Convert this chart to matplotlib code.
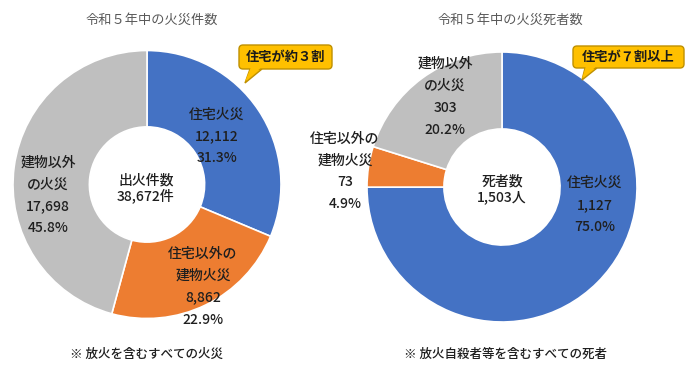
import matplotlib.pyplot as plt
from matplotlib.patches import FancyBboxPatch, Polygon

plt.rcParams['font.family'] = ['Noto Sans CJK JP', 'DejaVu Sans']

# data
categories = ['住宅火災', '住宅以外の\n建物火災', '建物以外\nの火災']
fire_counts = [12112, 8862, 17698]
death_counts = [1127, 73, 303]
colors = ['#4472C4', '#ED7D31', '#BFBFBF']

titles = ['令和５年中の火災件数', '令和５年中の火災死者数']
center_names = ['出火件数', '死者数']
center_units = ['件', '人']
footnotes = ['※ 放火を含むすべての火災', '※ 放火自殺者等を含むすべての死者']
callouts = ['住宅が約３割', '住宅が７割以上']

W, H = 696, 368
TEXT = '#1f1f1f'


def stack(ax, x, yc, lines, step=22, **kw):
    # draw lines centred on yc (image coords, y down)
    n = len(lines)
    for i, s in enumerate(lines):
        y = yc + (i - (n - 1) / 2) * step
        ax.text(x, H - y, s, ha='center', va='center', **kw)


def donut(ax, values, cx, cy, r, label_pos):
    ax.pie(values, colors=colors, startangle=90, counterclock=False,
           radius=r, center=(cx, H - cy),
           wedgeprops=dict(width=r * 0.57, edgecolor='white', linewidth=1.2))
    total = sum(values)
    for name, v, (lx, ly) in zip(categories, values, label_pos):
        lines = name.split('\n') + [f'{v:,}', f'{v / total * 100:.1f}%']
        stack(ax, lx, ly, lines, fontsize=10, fontweight='medium', color=TEXT)
    return total


def callout(ax, box, base, tip, text):
    x0, y0, x1, y1 = box
    fc, ec = '#FFC000', '#BF9000'
    tri = [(base[0], H - y1), (tip[0], H - tip[1]), (base[1], H - y1)]
    ax.add_patch(Polygon(tri, closed=True, fc=fc, ec=ec, lw=1, zorder=3))
    ax.add_patch(FancyBboxPatch((x0, H - y1), x1 - x0, y1 - y0,
                                boxstyle='round,pad=0,rounding_size=4',
                                fc=fc, ec=ec, lw=1, zorder=4))
    cover = [(base[0] + 0.8, H - y1 + 1.5), (tip[0], H - tip[1] + 1.5),
             (base[1] - 0.8, H - y1 + 1.5)]
    ax.add_patch(Polygon(cover, closed=True, fc=fc, ec='none', zorder=5))
    ax.text((x0 + x1) / 2, H - (y0 + y1) / 2, text, ha='center', va='center',
            fontsize=9.5, fontweight='bold', color='#1a1a1a', zorder=6)


fig = plt.figure(figsize=(6.96, 3.68), dpi=100)
ax = fig.add_axes([0, 0, 1, 1])

# left: fire counts
t1 = donut(ax, fire_counts, 147, 184.5, 134,
           [(217, 136.5), (203, 286.5), (48, 195.5)])
stack(ax, 146, 188, [center_names[0], f'{t1:,}{center_units[0]}'], step=16,
      fontsize=10, fontweight='medium', color=TEXT)
ax.text(152, H - 20, titles[0], ha='center', va='center', fontsize=9.5, color='#595959')
ax.text(147, H - 354, footnotes[0], ha='center', va='center', fontsize=9,
        fontweight='medium', color=TEXT)
callout(ax, (239, 45, 332, 69), (250, 262), (245, 83), callouts[0])

# right: deaths
t2 = donut(ax, death_counts, 502, 187, 135,
           [(595, 205), (345, 171.5), (445, 96.5)])
stack(ax, 502, 189, [center_names[1], f'{t2:,}{center_units[1]}'], step=16,
      fontsize=10, fontweight='medium', color=TEXT)
ax.text(510, H - 20, titles[1], ha='center', va='center', fontsize=9.5, color='#595959')
ax.text(506, H - 354, footnotes[1], ha='center', va='center', fontsize=9,
        fontweight='medium', color=TEXT)
callout(ax, (573, 46, 684, 68), (585, 597), (582, 80), callouts[1])

ax.set_xlim(0, W)
ax.set_ylim(0, H)
ax.set_aspect('equal')
ax.axis('off')

fig.savefig('out.png', dpi=100)
